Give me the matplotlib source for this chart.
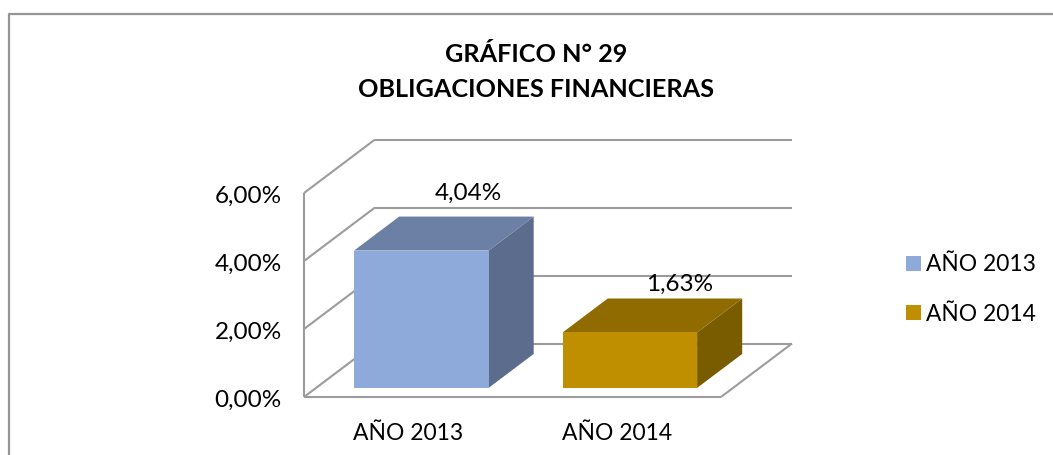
import matplotlib
matplotlib.use('Agg')
import matplotlib.pyplot as plt
from matplotlib.patches import Polygon, Patch
from matplotlib.lines import Line2D
from matplotlib.transforms import ScaledTranslation

categories = ['AÑO 2013', 'AÑO 2014']
values = [4.04, 1.63]
value_labels = ['4,04%', '1,63%']
y_ticks = [0, 2, 4, 6]
y_tick_labels = ['0,00%', '2,00%', '4,00%', '6,00%']
title = 'GRÁFICO N° 29\nOBLIGACIONES FINANCIERAS'

front_colors = ['#8eaadb', '#bf8f00']
top_colors = ['#6c7fa5', '#8f6b00']
side_colors = ['#5c6c8c', '#7a5c00']
grid_color = '#9c9c9c'

W, H = 1053, 455
plt.rcParams['font.family'] = ['Lato', 'DejaVu Sans']

fig = plt.figure(figsize=(W / 100, H / 100), dpi=100)
fig.patch.set_facecolor('white')
ax = fig.add_axes([304 / W, (H - 397) / H, 417 / W, 204 / H])
ax.set_xlim(0, 2)
ax.set_ylim(0, 6)

# oblique offset of the full chart depth, in data units
depth_x = 71 / 208.5
depth_y = 53.5 / 34


def project(x, y, z):
    return x + z * depth_x, y + z * depth_y


def line(xs, ys):
    ax.plot(xs, ys, color=grid_color, lw=1.5, clip_on=False, zorder=1, solid_capstyle='butt')


# walls and gridlines
for t in y_ticks:
    bx, by = project(0, t, 1)
    ex, ey = project(2, t, 1)
    line([0, bx], [t, by])
    line([bx, ex], [by, ey])
bx, by = project(2, 0, 1)
line([2, bx], [0, by])
line([0, 2], [0, 0])
line([0, 0], [0, 6])

# bars
bar_w = 134.5 / 208.5
z0 = 0.17
z1 = 0.805
label_shift = [(3, 9), (6, 0)]  # pixels, the labels sit a bit off the bar centre
for i, v in enumerate(values):
    x0 = i + (1 - bar_w) / 2 + 0.005
    x1 = x0 + bar_w
    front = [project(x0, 0, z0), project(x1, 0, z0), project(x1, v, z0), project(x0, v, z0)]
    top = [project(x0, v, z0), project(x1, v, z0), project(x1, v, z1), project(x0, v, z1)]
    side = [project(x1, 0, z0), project(x1, 0, z1), project(x1, v, z1), project(x1, v, z0)]
    ax.add_patch(Polygon(side, fc=side_colors[i], ec='none', clip_on=False, zorder=3))
    ax.add_patch(Polygon(top, fc=top_colors[i], ec='none', clip_on=False, zorder=3))
    ax.add_patch(Polygon(front, fc=front_colors[i], ec='none', clip_on=False, zorder=3))
    lx, ly = project(i + 0.5, v, z1)
    ax.annotate(value_labels[i], (lx, ly + 0.12), xytext=(label_shift[i][0] * 0.72, label_shift[i][1] * 0.72),
                textcoords='offset points', ha='center', va='bottom', fontsize=17.5, color='black',
                annotation_clip=False, zorder=4)

ax.set_xticks([0.5, 1.5], categories)
ax.set_yticks(y_ticks, y_tick_labels)
ax.tick_params(length=0, colors='black')
ax.tick_params(axis='y', pad=16, labelsize=17.5)
ax.tick_params(axis='x', pad=19, labelsize=16.5)
for lab in ax.get_yticklabels():
    lab.set_transform(lab.get_transform() + ScaledTranslation(0, -1.5 / 100, fig.dpi_scale_trans))
for s in ax.spines.values():
    s.set_visible(False)
ax.patch.set_visible(False)

fig.text(536 / W, 1 - 72 / H, title, ha='center', va='center', fontsize=18.2, fontweight='bold',
         color='black', linespacing=1.6)

handles = [Patch(fc=c, ec='none') for c in front_colors]
fig.legend(handles, categories, loc='center left', bbox_to_anchor=(888 / W, 1 - 289.5 / H), frameon=False,
           fontsize=16.4, handlelength=0.65, handleheight=0.65, handletextpad=0.22, labelspacing=1.26,
           borderpad=0.3)

# outer frame of the chart
fig.add_artist(Line2D([8.5 / W, 8.5 / W, 1], [0, 1 - 14 / H, 1 - 14 / H], color='#969696', lw=1.6))

fig.savefig('out.png', dpi=100)
